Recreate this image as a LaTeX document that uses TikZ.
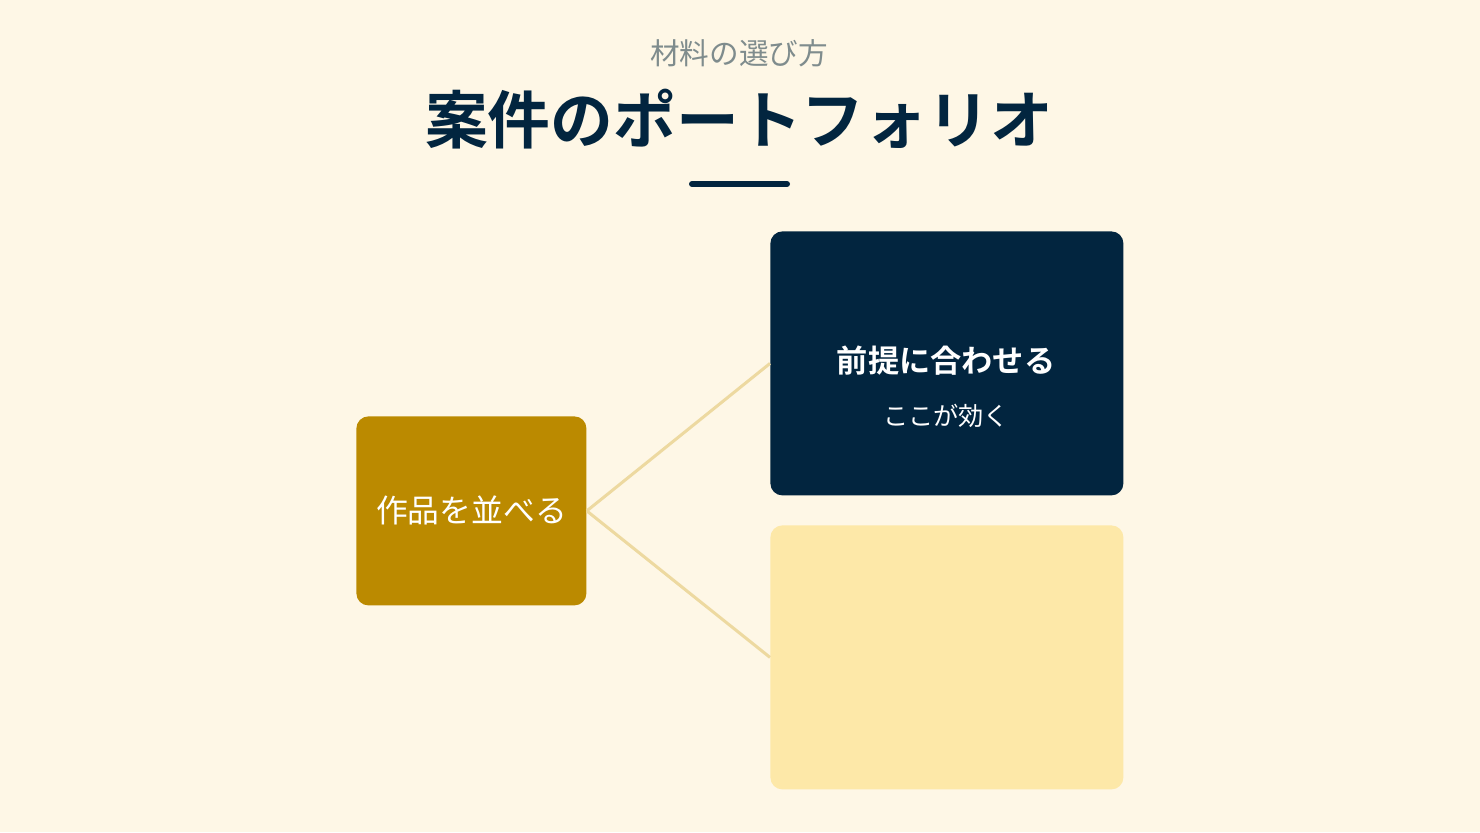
\documentclass[tikz,border=0pt]{standalone}
\usepackage{fontspec}
\setmainfont{Noto Sans CJK JP}[BoldFont={Noto Sans CJK JP Bold}]
\definecolor{bgc}{HTML}{FEF7E6}
\definecolor{navy}{HTML}{02253F}
\definecolor{gold}{HTML}{BB8A00}
\definecolor{pale}{HTML}{FDE8A8}
\definecolor{linkc}{HTML}{EDD9A0}
\definecolor{subgray}{HTML}{7F8C8D}
\tikzset{
  box/.style={rounded corners=6pt, inner sep=0pt, anchor=north west},
  link/.style={draw=linkc, line width=1.5pt},
}
\begin{document}
\begin{tikzpicture}[x=0.5pt,y=-0.5pt]
\fill[bgc] (0,0) rectangle (1480,832);
\useasboundingbox (0,0) rectangle (1480,832);
\node[text=subgray, font=\fontsize{14.8}{17}\selectfont] (sub) at (739,53) {材料の選び方};
\node[text=navy, font=\fontsize{31.4}{35}\selectfont\bfseries] (title) at (739,119) {案件のポートフォリオ};
\draw[navy, line width=3pt, line cap=round] (692,184) coordinate (ul1) -- (787,184) coordinate (ul2);
\node[box, fill=gold, minimum width=115pt, minimum height=94.5pt] (left) at (356,416) {};
\node[text=white, font=\fontsize{15.9}{18}\selectfont] (lt) at (left.center) {作品を並べる};
\node[box, fill=navy, minimum width=176.5pt, minimum height=132pt] (tr) at (770,231) {};
\node[text=white, font=\fontsize{15.6}{18}\selectfont\bfseries] (trt) at (946,361) {前提に合わせる};
\node[text=white, font=\fontsize{12.6}{14}\selectfont] (trs) at (946,416) {ここが効く};
\node[box, fill=pale, minimum width=176.5pt, minimum height=132pt] (br) at (770,525) {};
\draw[link] (left.east) -- (tr.west);
\draw[link] (left.east) -- (br.west);
\end{tikzpicture}
\end{document}
